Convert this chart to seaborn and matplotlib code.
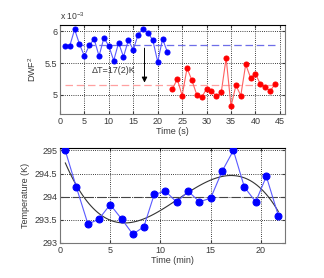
import numpy as np
import pandas as pd
import matplotlib
matplotlib.use("Agg")
import matplotlib.pyplot as plt
import seaborn as sns

# ---- data: top panel (DWF^2, x1e-3) ----
t_blue = [1, 2, 3, 4, 5, 6, 7, 8, 9, 10, 11, 12, 13, 14, 15, 16, 17, 18, 19, 20, 21, 22]
dwf_blue = [5.776, 5.77, 6.03, 5.80, 5.61, 5.78, 5.88, 5.61, 5.90, 5.77, 5.54,
            5.82, 5.60, 5.86, 5.71, 5.95, 6.04, 5.98, 5.86, 5.52, 5.88, 5.67]
t_red = [23, 24, 25, 26, 27, 28, 29, 30, 31, 32, 33, 34, 35, 36, 37, 38, 39, 40, 41, 42, 43, 44]
dwf_red = [5.09, 5.25, 4.99, 5.42, 5.23, 5.00, 4.96, 5.10, 5.06, 4.98, 5.04,
           5.58, 4.82, 5.15, 4.99, 5.48, 5.27, 5.33, 5.17, 5.13, 5.06, 5.17]
mean_blue = 5.78
mean_red = 5.15
mean_span = [1, 44]
delta_label = "ΔT=17(2)K"
arrow_x = 17.3

# ---- data: bottom panel (Temperature) ----
t_min = [0.53, 1.63, 2.79, 3.85, 5.01, 6.14, 7.26, 8.36, 9.39, 10.51,
         11.64, 12.77, 13.90, 15.02, 16.15, 17.28, 18.37, 19.50, 20.56, 21.76]
temp_K = [295.0, 294.21, 293.41, 293.51, 293.83, 293.52, 293.19, 293.35, 294.05, 294.12,
          293.88, 294.12, 293.89, 293.97, 294.55, 295.0, 294.21, 293.89, 294.44, 293.59]
temp_ref = 294.0

top_xticks = [0, 5, 10, 15, 20, 25, 30, 35, 40, 45]
top_yticks = [5, 5.5, 6]
bot_xticks = [0, 5, 10, 15, 20]
bot_yticks = [293, 293.5, 294, 294.5, 295]

sns.set_style("white")
plt.rcParams['font.family'] = ['Liberation Sans', 'DejaVu Sans']
plt.rcParams['mathtext.fontset'] = 'custom'
plt.rcParams['mathtext.rm'] = 'Liberation Sans'
plt.rcParams['mathtext.it'] = 'Liberation Sans'

fig = plt.figure(figsize=(3.24, 2.78), dpi=100)
ax1 = fig.add_axes([0.185, 0.590, 0.694, 0.320])
ax2 = fig.add_axes([0.185, 0.126, 0.694, 0.341])

tc = '#3a3a3a'
fs = 6.5
grid_dash = (0, (1, 1.6))

def style(ax):
    for s in ax.spines.values():
        s.set_color('#777777')
        s.set_linewidth(0.8)
    ax.spines['top'].set_color('black')
    ax.tick_params(axis='both', labelsize=fs, colors=tc, length=2, direction='in',
                   pad=2, top=True, right=True, bottom=True, left=True)
    ax.grid(True, linestyle=grid_dash, color='black', linewidth=0.6)
    ax.set_axisbelow(True)

# top panel
df_b = pd.DataFrame({'t': t_blue, 'v': dwf_blue})
df_r = pd.DataFrame({'t': t_red, 'v': dwf_red})
ax1.plot(mean_span, [mean_blue, mean_blue], color='#6e6ee8', lw=0.9, dashes=(6, 3), zorder=2)
ax1.plot(mean_span, [mean_red, mean_red], color='#ffa0a0', lw=0.9, dashes=(6, 3), zorder=2)
sns.lineplot(data=df_b, x='t', y='v', ax=ax1, color='#5a5aff', lw=0.8,
             marker='o', markersize=3.6, markerfacecolor='blue', markeredgecolor='blue', zorder=3)
sns.lineplot(data=df_r, x='t', y='v', ax=ax1, color='#ff6060', lw=0.8,
             marker='o', markersize=3.6, markerfacecolor='red', markeredgecolor='red', zorder=3)
ax1.annotate('', xy=(arrow_x, mean_red), xytext=(arrow_x, mean_blue),
             arrowprops=dict(arrowstyle='-|>', color='black', lw=0.7,
                             mutation_scale=8), zorder=4)
ax1.text(6.5, 5.38, delta_label, fontsize=fs, color=tc, va='center', ha='left')
ax1.set_xlim(0, 46)
ax1.set_ylim(4.7, 6.1)
ax1.set_xticks(top_xticks)
ax1.set_yticks(top_yticks)
ax1.set_yticklabels(['5', '5.5', '6'])
ax1.set_xlabel('Time (s)', fontsize=fs, color=tc, labelpad=1)
ax1.set_ylabel('DWF$^2$', fontsize=fs, color=tc, labelpad=5)
ax1.text(0.0, 1.03, r'x 10$^{-3}$', transform=ax1.transAxes, fontsize=6.2, color=tc,
         ha='left', va='bottom')
style(ax1)

# bottom panel
df_t = pd.DataFrame({'t': t_min, 'T': temp_K})
ax2.axhline(temp_ref, color='#444444', lw=0.8, dashes=(8, 3), zorder=2)
sns.regplot(data=df_t, x='t', y='T', ax=ax2, order=3, ci=None, scatter=False,
            line_kws=dict(color='#333333', lw=0.8, zorder=3))
sns.lineplot(data=df_t, x='t', y='T', ax=ax2, color='#5a5aff', lw=0.8,
             marker='o', markersize=5, markerfacecolor='blue', markeredgecolor='blue', zorder=4)
ax2.set_xlim(0, 22.4)
ax2.set_ylim(293, 295.05)
ax2.set_xticks(bot_xticks)
ax2.set_yticks(bot_yticks)
ax2.set_yticklabels(['293', '293.5', '294', '294.5', '295'])
ax2.set_xlabel('Time (min)', fontsize=fs, color=tc, labelpad=1)
ax2.set_ylabel('Temperature (K)', fontsize=fs, color=tc, labelpad=3)
style(ax2)

fig.savefig('out.png', dpi=100)
